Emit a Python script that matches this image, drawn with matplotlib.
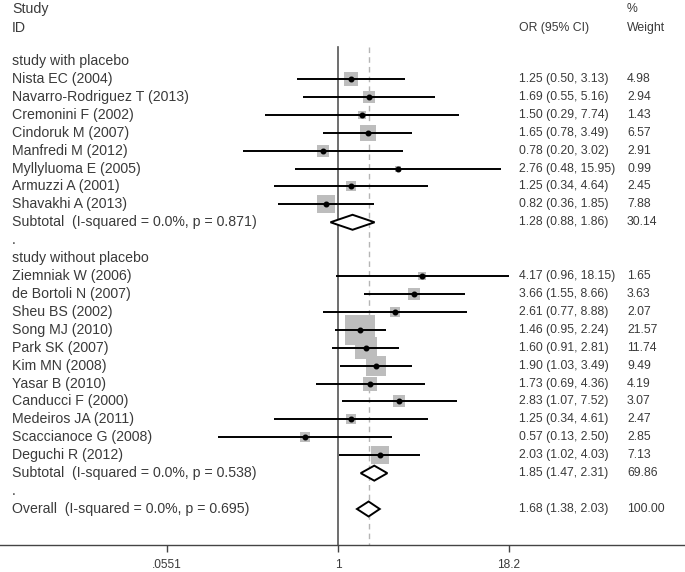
import matplotlib
matplotlib.use("Agg")
import matplotlib.pyplot as plt
import matplotlib.transforms as mtransforms
import numpy as np

plt.rcParams['font.family'] = ['Liberation Sans', 'DejaVu Sans']

group1_label = "study with placebo"
studies1 = ["Nista EC (2004)", "Navarro-Rodriguez T (2013)", "Cremonini F (2002)",
            "Cindoruk M (2007)", "Manfredi M (2012)", "Myllyluoma E (2005)",
            "Armuzzi A (2001)", "Shavakhi A (2013)"]
or1 = [1.25, 1.69, 1.50, 1.65, 0.78, 2.76, 1.25, 0.82]
lo1 = [0.50, 0.55, 0.29, 0.78, 0.20, 0.48, 0.34, 0.36]
hi1 = [3.13, 5.16, 7.74, 3.49, 3.02, 15.95, 4.64, 1.85]
w1 = [4.98, 2.94, 1.43, 6.57, 2.91, 0.99, 2.45, 7.88]
sub1 = (1.28, 0.88, 1.86, 30.14)
sub1_label = "Subtotal  (I-squared = 0.0%, p = 0.871)"

group2_label = "study without placebo"
studies2 = ["Ziemniak W (2006)", "de Bortoli N (2007)", "Sheu BS (2002)",
            "Song MJ (2010)", "Park SK (2007)", "Kim MN (2008)", "Yasar B (2010)",
            "Canducci F (2000)", "Medeiros JA (2011)", "Scaccianoce G (2008)",
            "Deguchi R (2012)"]
or2 = [4.17, 3.66, 2.61, 1.46, 1.60, 1.90, 1.73, 2.83, 1.25, 0.57, 2.03]
lo2 = [0.96, 1.55, 0.77, 0.95, 0.91, 1.03, 0.69, 1.07, 0.34, 0.13, 1.02]
hi2 = [18.15, 8.66, 8.88, 2.24, 2.81, 3.49, 4.36, 7.52, 4.61, 2.50, 4.03]
w2 = [1.65, 3.63, 2.07, 21.57, 11.74, 9.49, 4.19, 3.07, 2.47, 2.85, 7.13]
sub2 = (1.85, 1.47, 2.31, 69.86)
sub2_label = "Subtotal  (I-squared = 0.0%, p = 0.538)"

overall = (1.68, 1.38, 2.03, 100.00)
overall_label = "Overall  (I-squared = 0.0%, p = 0.695)"

tick_vals = [0.0551, 1, 18.2]
tick_labels = [".0551", "1", "18.2"]

W, H = 685, 572
fig = plt.figure(figsize=(W / 100, H / 100), dpi=100)
axis_px = 545
ax = fig.add_axes([0, (H - axis_px) / H, 1, axis_px / H])

row0_px = 61.0
row_h = 17.92
x_left_log = -338 / 135.7
x_right_log = (W - 338) / 135.7
ax.set_xscale('log')
ax.set_xlim(10 ** x_left_log, 10 ** x_right_log)
ax.set_ylim((axis_px - row0_px) / row_h, -row0_px / row_h)

for s in ['top', 'left', 'right']:
    ax.spines[s].set_visible(False)
ax.spines['bottom'].set_color('#444444')
ax.spines['bottom'].set_linewidth(1.0)
ax.set_yticks([])
ax.xaxis.set_minor_locator(matplotlib.ticker.NullLocator())
ax.set_xticks(tick_vals)
ax.set_xticklabels(tick_labels)
ax.tick_params(axis='x', length=5, width=1.0, color='#444444', pad=5,
               labelsize=8.6, labelcolor='#3a3a3a')

txt_color = '#3a3a3a'
fs = 10.2      # study labels
fs_num = 8.8   # numeric columns
tr = mtransforms.blended_transform_factory(ax.transAxes, ax.transData)
x_lab = 12 / W
x_or = 519 / W
x_w = 627 / W

line_top = (47 - row0_px) / row_h
ybot = (axis_px - row0_px) / row_h
ax.plot([1, 1], [line_top, ybot], color='#555555', lw=1.2, zorder=1)
ax.plot([overall[0], overall[0]], [line_top, ybot], color='#b5b5b5', lw=1.0,
        ls=(0, (4, 3)), zorder=1)

# headers
ax.text(x_lab, -2.9, "Study", transform=tr, fontsize=fs, color=txt_color, va='center')
ax.text(x_lab, -1.85, "ID", transform=tr, fontsize=fs, color=txt_color, va='center')
ax.text(x_or, -1.85, "OR (95% CI)", transform=tr, fontsize=fs_num, color=txt_color, va='center')
ax.text(x_w, -2.9, "%", transform=tr, fontsize=fs_num, color=txt_color, va='center')
ax.text(x_w, -1.85, "Weight", transform=tr, fontsize=fs_num, color=txt_color, va='center')

px_per_pt = 100 / 72.0


def right_cols(y, o, l, h, w):
    ax.text(x_or, y, f"{o:.2f} ({l:.2f}, {h:.2f})", transform=tr, fontsize=fs_num,
            color=txt_color, va='center')
    ax.text(x_w, y, f"{w:.2f}", transform=tr, fontsize=fs_num, color=txt_color,
            va='center')


def study_row(y, name, o, l, h, w):
    ax.plot([l, h], [y, y], color='black', lw=1.4, zorder=3, solid_capstyle='butt')
    side_px = 6.46 * np.sqrt(w)
    ax.plot([o], [y], marker='s', markersize=side_px / px_per_pt, color='#bdbdbd',
            markeredgewidth=0, zorder=2)
    ax.plot([o], [y], marker='o', markersize=3.3, color='black', zorder=4)
    ax.text(x_lab, y, name, transform=tr, fontsize=fs, color=txt_color, va='center')
    right_cols(y, o, l, h, w)


def diamond_row(y, name, vals):
    o, l, h, w = vals
    half = 7.5 / row_h
    ax.fill([l, o, h, o, l], [y, y - half, y, y + half, y], facecolor='white',
            edgecolor='black', lw=1.4, zorder=5)
    ax.text(x_lab, y, name, transform=tr, fontsize=fs, color=txt_color, va='center')
    right_cols(y, o, l, h, w)


row = 0
ax.text(x_lab, row, group1_label, transform=tr, fontsize=fs, color=txt_color, va='center')
row += 1
for n, o, l, h, w in zip(studies1, or1, lo1, hi1, w1):
    study_row(row, n, o, l, h, w)
    row += 1
diamond_row(row, sub1_label, sub1)
row += 1
ax.text(x_lab, row, ".", transform=tr, fontsize=fs, color=txt_color, va='center')
row += 1
ax.text(x_lab, row, group2_label, transform=tr, fontsize=fs, color=txt_color, va='center')
row += 1
for n, o, l, h, w in zip(studies2, or2, lo2, hi2, w2):
    study_row(row, n, o, l, h, w)
    row += 1
diamond_row(row, sub2_label, sub2)
row += 1
ax.text(x_lab, row, ".", transform=tr, fontsize=fs, color=txt_color, va='center')
row += 1
diamond_row(row, overall_label, overall)

fig.savefig("out.png", dpi=100)
